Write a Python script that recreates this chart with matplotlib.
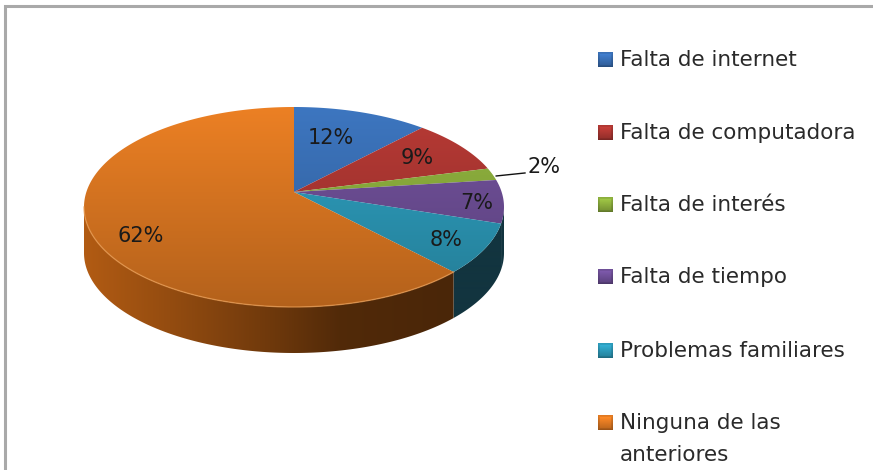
#!/usr/bin/env python3

import matplotlib
matplotlib.use("Agg")
import matplotlib.pyplot as plt
import numpy as np
from matplotlib.colors import to_rgb
from matplotlib.patches import Polygon

categories = ["Falta de internet", "Falta de computadora", "Falta de interés",
              "Falta de tiempo", "Problemas familiares", "Ninguna de las\nanteriores"]
values = [12, 9, 2, 7, 8, 62]
top_colors = ["#3d76c0", "#b83a35", "#94b840", "#74539f", "#2fa3c4", "#ec8024"]
side_colors = ["#1c3a60", "#5e1c1a", "#4a5e1e", "#12343f", "#12343f", "#4a2608"]
label_pos = [(331, 138), (417, 158), (544, 167), (477, 203), (446, 240), (141, 236)]
legend_y = [60, 133, 205, 277, 351, 423]

W, H = 873, 470
cx, cy, rx, ry = 294, 207, 210, 100
depth = 46
tilt = -0.15


def rim(theta):
    # circle seen in perspective, theta clockwise from the top
    u, v = np.sin(theta), -np.cos(theta)
    d = 1 + tilt * v
    return cx + rx * u * np.sqrt(1 - tilt ** 2) / d, cy + ry * (v + tilt) / d


def rim_angle(phi):
    # inverse of rim() for a point at ellipse angle phi
    u, v = np.sin(phi), -np.cos(phi)
    d = 1 - tilt * v
    return np.arctan2(u * np.sqrt(1 - tilt ** 2) / d, -(v - tilt) / d)


fig = plt.figure(figsize=(W / 100, H / 100), dpi=100)
ax = fig.add_axes([0, 0, 1, 1])
ax.set_xlim(0, W)
ax.set_ylim(H, 0)
ax.axis("off")

ax.plot([5, 5, W], [H, 6, 6], color="#a9a9a9", lw=2.2, solid_joinstyle="miter", zorder=1)

edges = np.concatenate([[0], np.cumsum(values)]) / np.sum(values) * 2 * np.pi
apex = rim(0)[0], cy + ry * tilt

# side wall, only the front half of the rim shows
front_a, front_b = rim_angle(np.pi / 2), rim_angle(3 * np.pi / 2) % (2 * np.pi)
for i in range(len(values)):
    a, b = max(edges[i], front_a), min(edges[i + 1], front_b)
    if a >= b:
        continue
    xs, ys = rim(np.linspace(a, b, 200))
    poly = Polygon(np.r_[np.c_[xs, ys], np.c_[xs, ys + depth][::-1]], closed=True,
                   fc="none", ec="none")
    ax.add_patch(poly)
    base = np.array(to_rgb(side_colors[i]))
    if i == len(values) - 1:
        shade = np.interp(np.arange(W), [85, 180, 270, 340, 452], [2.4, 1.95, 1.5, 1.1, 1.0])
    else:
        shade = np.ones(W)
    grad = np.clip(shade[None, :, None] * base, 0, 1)
    im = ax.imshow(grad, extent=(0, W, H, 0), aspect="auto", zorder=2,
                   interpolation="bilinear")
    im.set_clip_path(poly)

# top face, one gradient running down the whole pie
shade = np.interp(np.arange(H), [107, 307], [1.0, 0.76])
for i in range(len(values)):
    xs, ys = rim(np.linspace(edges[i], edges[i + 1], 300))
    poly = Polygon(np.r_[[apex], np.c_[xs, ys]], closed=True, fc="none", ec="none")
    ax.add_patch(poly)
    base = np.array(to_rgb(top_colors[i]))
    grad = np.clip(shade[:, None, None] * base, 0, 1)
    im = ax.imshow(grad, extent=(0, W, H, 0), aspect="auto", zorder=3,
                   interpolation="bilinear")
    im.set_clip_path(poly)

# light bevel on the front edge of the orange slice
xs, ys = rim(np.linspace(max(edges[5], front_a), front_b, 200))
ax.plot(xs, ys, color="#e89a50", lw=1.0, alpha=0.7, zorder=4)

for (x, y), v in zip(label_pos, values):
    ax.text(x, y, f"{v}%", ha="center", va="center", fontsize=15, color="#1a1a1a",
            family="DejaVu Sans", zorder=6)

mx, my = rim(edges[3])
ax.plot([mx, 525], [my - 4, my - 7], color="#111111", lw=1.0, zorder=5)

for name, y, c in zip(categories, legend_y, top_colors):
    base = np.array(to_rgb(c))
    n = 15
    yy, xx = np.mgrid[0:n, 0:n]
    dist = np.minimum.reduce([xx, yy, n - 1 - xx, n - 1 - yy])
    light = np.interp(dist, [0, 1, 2, 7], [0.85, 0.9, 1.0, 1.0])
    light = light * np.interp(yy, [0, n - 1], [1.12, 0.78])
    ax.imshow(np.clip(light[:, :, None] * base, 0, 1), extent=(598, 613, y + 7, y - 8),
              aspect="auto", zorder=3, interpolation="bilinear")
    ax.text(620, y, name.split("\n")[0], ha="left", va="center", fontsize=15.45,
            color="#2a2a2a", family="DejaVu Sans")
    if "\n" in name:
        ax.text(620, y + 32, name.split("\n")[1], ha="left", va="center", fontsize=15.45,
                color="#2a2a2a", family="DejaVu Sans")

ax.set_xlim(0, W)
ax.set_ylim(H, 0)
fig.savefig("out.png", dpi=100)
